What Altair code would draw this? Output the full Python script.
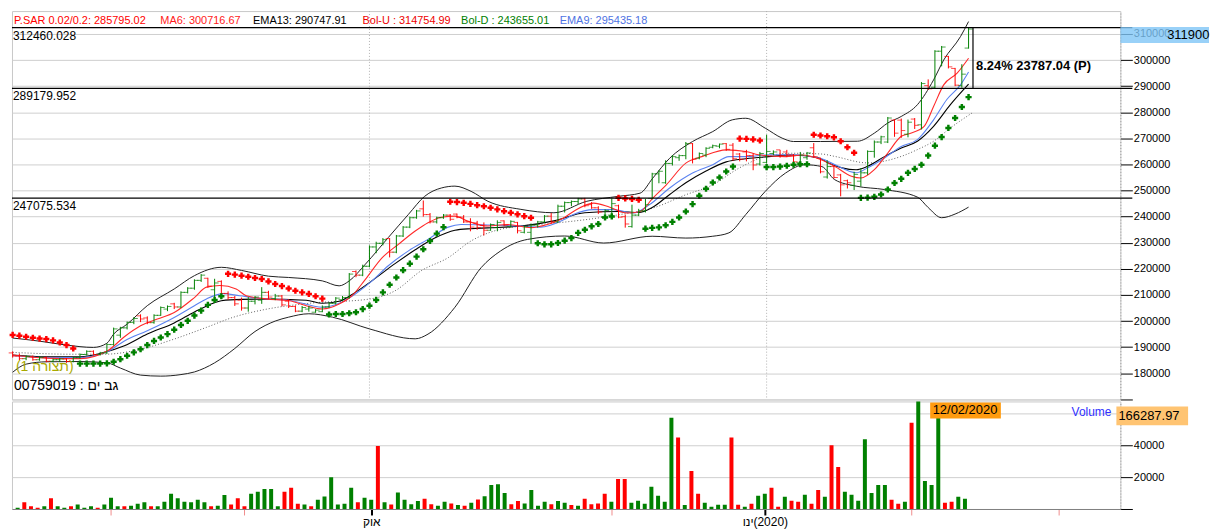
import altair as alt
import pandas as pd

FONT = "Liberation Sans, Arial, sans-serif"
K = 1000.0

# ---------------- price bars (thousands) ----------------
bar_open = [187.8, 186.6, 185.6, 186.4, 185.2, 186.0, 184.6, 185.2, 185.5, 184.5,
            186.0, 187.2, 188.4, 187.2, 187.8, 191.0, 194.6, 197.4, 199.5, 202.0,
            201.2, 199.4, 202.2, 204.6, 206.6, 205.4, 211.0, 212.6, 215.6, 216.4,
            212.0, 215.2, 210.6, 209.0, 208.0, 205.0, 207.6, 208.0, 211.0, 208.6,
            209.6, 207.6, 205.6, 203.8, 204.6, 203.4, 203.6, 205.4, 206.8, 208.2,
            209.0, 219.0, 217.6, 221.0, 228.4, 229.8, 231.6, 226.4, 232.6, 236.0,
            239.6, 243.0, 240.8, 238.0, 239.6, 240.6, 241.0, 239.8, 238.0, 237.6,
            236.6, 234.8, 235.8, 238.4, 236.2, 237.8, 234.0, 234.0, 236.8, 238.0,
            240.2, 238.0, 244.0, 245.4, 245.8, 246.8, 244.6, 243.4, 240.0, 240.6,
            244.2, 240.0, 236.2, 240.6, 242.2, 247.0, 256.4, 253.0, 260.4, 262.6,
            263.4, 268.0, 262.4, 263.6, 266.6, 267.0, 268.0, 267.4, 264.0, 264.8,
            263.4, 260.2, 260.8, 264.2, 265.6, 264.8, 263.6, 260.8, 262.6, 266.4,
            262.4, 255.2, 259.2, 256.0, 253.8, 252.0, 253.6, 256.8, 265.0, 268.6,
            268.6, 277.0, 277.0, 271.6, 277.4, 275.2, 290.2, 289.6, 303.4, 301.4,
            296.8, 290.2, 304.6]
bar_high = [188.4, 187.6, 186.8, 186.8, 186.4, 186.4, 185.6, 185.8, 185.8, 186.2,
            187.6, 188.8, 188.8, 188.2, 191.4, 197.5, 197.8, 199.8, 201.5, 202.6,
            201.8, 202.6, 205.6, 206.0, 207.0, 211.4, 213.0, 216.0, 218.0, 216.6,
            216.2, 215.6, 211.4, 209.6, 209.0, 209.2, 209.6, 213.0, 211.6, 210.4,
            210.0, 208.4, 206.0, 205.8, 205.8, 204.6, 206.0, 207.2, 209.2, 209.6,
            218.4, 219.4, 221.6, 229.0, 230.4, 231.8, 231.8, 233.0, 236.4, 240.0,
            242.6, 246.2, 241.4, 240.0, 241.0, 241.0, 241.2, 240.6, 239.4, 238.4,
            237.8, 237.4, 238.6, 238.6, 238.6, 238.0, 236.6, 237.4, 238.4, 240.6,
            241.4, 244.6, 245.8, 246.2, 247.2, 247.2, 245.6, 244.0, 242.8, 247.0,
            244.6, 240.8, 244.6, 243.0, 246.8, 256.8, 257.8, 261.6, 263.6, 263.8,
            268.6, 268.2, 264.6, 266.6, 267.6, 268.0, 268.2, 268.2, 264.4, 265.6,
            264.2, 264.8, 271.4, 265.4, 265.6, 265.6, 264.0, 264.8, 264.8, 268.2,
            262.6, 261.6, 259.8, 256.4, 254.2, 257.2, 258.6, 265.4, 269.2, 271.0,
            278.2, 277.4, 277.6, 277.2, 277.8, 291.6, 292.6, 303.8, 305.4, 301.6,
            297.0, 298.4, 312.4]
bar_low = [186.0, 185.0, 185.0, 184.8, 184.8, 184.2, 184.2, 184.4, 184.0, 184.2,
           185.6, 186.8, 186.8, 186.8, 187.4, 190.6, 193.6, 196.8, 198.8, 199.6,
           198.8, 199.0, 202.0, 203.8, 204.6, 205.0, 210.6, 212.0, 215.0, 212.8,
           207.4, 210.0, 208.2, 205.8, 204.0, 203.6, 206.4, 206.6, 208.4, 208.0,
           205.6, 205.0, 203.4, 203.4, 203.6, 203.2, 203.4, 205.0, 206.4, 207.6,
           208.6, 216.8, 217.2, 220.6, 226.0, 229.0, 224.4, 226.0, 232.2, 235.6,
           239.2, 240.0, 237.4, 237.4, 239.2, 238.4, 239.4, 237.6, 234.4, 235.0,
           232.8, 234.6, 234.4, 236.4, 235.8, 233.6, 233.6, 229.6, 235.8, 237.6,
           237.4, 237.6, 241.6, 244.0, 244.8, 243.6, 243.0, 241.0, 239.8, 240.4,
           239.4, 235.8, 235.8, 240.2, 241.6, 246.6, 252.8, 252.6, 259.6, 261.4,
           262.0, 260.4, 262.0, 262.8, 266.2, 266.2, 265.2, 261.4, 261.2, 261.2,
           257.8, 259.6, 260.4, 263.6, 262.6, 262.8, 260.2, 260.0, 261.8, 262.6,
           256.6, 254.6, 254.6, 247.8, 250.8, 250.2, 251.6, 256.0, 262.6, 267.8,
           268.2, 270.6, 270.2, 270.4, 273.6, 273.4, 288.6, 289.0, 297.6, 296.8,
           290.0, 289.4, 304.4]
bar_close = [186.6, 185.6, 186.4, 185.2, 186.0, 184.6, 185.2, 185.5, 184.5, 186.0,
             187.2, 188.4, 187.2, 187.8, 191.0, 197.0, 197.4, 199.5, 201.0, 200.8,
             199.4, 202.2, 205.2, 205.6, 205.4, 211.0, 212.6, 215.6, 217.6, 213.4,
             214.6, 210.6, 209.0, 206.6, 205.0, 207.6, 209.2, 211.0, 209.2, 209.6,
             206.2, 205.6, 203.8, 205.2, 205.0, 204.2, 205.4, 206.8, 208.8, 209.0,
             218.0, 217.6, 221.0, 228.4, 229.8, 231.2, 226.4, 232.6, 236.0, 239.6,
             242.2, 240.8, 238.0, 239.6, 240.6, 239.0, 239.8, 238.0, 236.0, 235.8,
             234.8, 237.0, 237.8, 236.8, 238.2, 234.6, 236.2, 236.8, 238.0, 240.2,
             238.0, 244.0, 245.4, 245.8, 246.8, 244.2, 243.4, 241.8, 242.4, 245.0,
             239.8, 237.2, 240.6, 242.2, 244.6, 256.4, 257.4, 260.4, 263.0, 263.4,
             268.0, 262.0, 264.2, 266.2, 267.2, 267.8, 265.8, 262.2, 262.0, 263.4,
             259.8, 264.2, 265.0, 264.8, 263.4, 263.6, 261.0, 263.6, 264.4, 263.0,
             257.2, 259.2, 255.0, 252.2, 253.0, 256.2, 256.8, 265.0, 268.6, 270.6,
             277.8, 272.0, 273.0, 276.2, 275.0, 291.0, 289.0, 303.4, 305.0, 297.4,
             290.4, 294.6, 311.9]

# Parabolic SAR per bar (thousands)
psar = [194.7, 194.4, 194.0, 193.6, 193.3, 193.1, 192.6, 191.8, 190.8, 189.5,
        183.7, 183.7, 183.7, 183.7, 183.8, 184.4, 185.4, 186.7, 188.0, 189.2,
        190.8, 192.4, 193.7, 195.0, 196.7, 198.5, 200.1, 202.1, 204.0, 206.2,
        208.1, 209.5,
        218.1, 217.8, 217.4, 217.0, 216.5, 216.1, 215.2, 214.2, 213.4, 212.5,
        211.6, 211.0, 210.4, 209.5, 208.6,
        202.5, 202.7, 202.7, 203.0, 203.4, 204.6, 205.9, 208.1, 211.0, 213.9,
        216.7, 219.5, 222.0, 224.7, 227.5, 230.7, 233.5, 236.0,
        245.7, 245.6, 245.3, 244.9, 244.4, 244.0, 243.4, 242.8, 242.1, 241.5,
        240.9, 240.2, 239.6,
        229.8, 229.4, 229.4, 229.9, 230.8, 231.8, 233.8, 235.0, 236.3, 237.2,
        239.7, 240.1,
        247.2, 247.0, 246.8, 246.5,
        235.4, 235.7, 235.9, 236.7, 238.0, 239.7, 242.0, 244.8, 248.0, 250.7,
        253.1, 255.0, 257.3, 259.2,
        269.9, 269.8, 269.6, 269.2,
        259.0, 259.0, 259.2, 259.5, 259.9, 260.1, 260.1,
        271.4, 271.1, 270.8, 270.4, 268.9, 266.6, 264.5,
        247.2, 247.3, 247.6, 248.5, 250.4, 252.9, 254.5, 256.8, 258.3, 259.9,
        263.4, 267.2, 270.5, 274.0, 277.8, 282.0, 285.8]

# indicator lines, read at sample bars (thousands)
bbu_x = [0, 4, 8, 12, 14, 15, 17, 20, 24, 27, 31, 34, 38, 41, 46, 48.5, 50, 52.4,
         55.8, 58.8, 61.2, 63.7, 65.7, 68.1, 70.6, 75.5, 80.4, 85.3, 90, 93.2, 95.1,
         97.6, 101, 104, 106.9, 108.9, 111.8, 114.3, 116, 120, 125.5, 128, 130, 132,
         134.4, 136.8, 138.3, 140.8, 142]
bbu_y = [193.5, 192.3, 190.8, 189.9, 191.5, 195.0, 198.8, 205.9, 212.3, 217.4, 220.6,
         219.4, 217.2, 216.7, 215.4, 213.5, 215.4, 221.8, 232.0, 240.9, 247.8, 251.0,
         251.7, 249.7, 245.9, 242.8, 241.5, 245.9, 247.8, 249.0, 254.8, 262.4, 268.8,
         272.6, 277.1, 277.7, 273.9, 270.1, 268.8, 268.8, 268.9, 272.0, 275.9, 278.4,
         282.9, 292.4, 300.0, 309.0, 314.755]
bbl_x = [0, 2, 5, 10, 14, 16, 19, 22, 25, 27, 30, 33, 36, 39, 41, 44, 47.5, 53, 59.8,
         61.7, 65.7, 69.6, 72.5, 76.5, 82, 87.8, 95, 100, 104, 106.4, 108.9, 111.8,
         114.8, 117.7, 120.2, 122.1, 125.3, 129.5, 134.4, 136, 138, 140, 142]
bbl_y = [180.4, 183.5, 184.4, 184.5, 184.0, 182.0, 179.3, 178.9, 179.5, 180.5, 184.0,
         189.5, 196.0, 200.0, 201.5, 202.8, 201.5, 197.0, 193.2, 195.0, 205.3, 220.5,
         226.9, 231.3, 232.6, 229.9, 232.5, 231.8, 232.5, 233.8, 240.8, 249.7, 256.7,
         259.9, 259.2, 254.2, 251.7, 250.4, 247.5, 243.5, 239.6, 241.0, 243.655]
ema13_x = [0, 5, 10, 13.6, 16.6, 20, 24, 27, 29, 31, 34, 37, 43.6, 46, 48.5, 50.9,
           53.4, 56.8, 59.8, 62.7, 65.7, 68.1, 70.6, 75.5, 80.4, 85, 90, 93, 95, 97.6,
           100, 103, 106, 108.9, 112.3, 115.7, 119.7, 121, 125.3, 127, 129.5, 132,
           134.4, 136.8, 139.3, 142]
ema13_y = [187.0, 186.3, 186.3, 188.0, 190.5, 195.0, 199.3, 203.5, 206.0, 207.8, 208.3,
           208.4, 208.0, 206.8, 207.6, 211.0, 215.5, 222.0, 227.3, 231.8, 234.8, 235.4,
           235.7, 236.4, 238.4, 241.5, 242.0, 241.6, 243.5, 248.5, 253.0, 257.5, 261.0,
           262.2, 263.0, 263.6, 262.6, 260.8, 258.0, 259.3, 263.0, 266.3, 268.9, 274.6,
           282.9, 290.748]
ema9_x = [0, 5, 10, 14, 16.6, 20, 24, 27, 28.8, 31.3, 33.7, 37.6, 41, 46, 48.5, 50.9,
          53.4, 55.8, 58.8, 61.7, 64.7, 66.6, 70.6, 75.5, 78.4, 81.9, 83.3, 86.3, 89.2,
          92.2, 94.6, 97.6, 101, 104, 106.4, 108.9, 112.3, 115.7, 120.2, 122.1, 125.3,
          127, 129.5, 132, 134.4, 136.8, 138.8, 140.8, 142]
ema9_y = [186.8, 186.0, 186.0, 188.2, 192.4, 196.3, 201.4, 205.9, 208.5, 210.5, 209.7,
          208.5, 208.0, 205.3, 206.8, 210.4, 215.4, 221.2, 226.9, 231.3, 236.0, 237.0,
          236.8, 236.4, 236.0, 238.9, 240.8, 242.7, 242.7, 241.4, 244.6, 251.0, 256.7,
          259.9, 263.0, 263.0, 263.7, 263.7, 262.2, 260.0, 256.8, 258.7, 262.5, 266.9,
          269.5, 277.1, 285.0, 290.5, 295.435]
ma6_x = [0, 5, 10, 14.1, 16.6, 19, 21.5, 24, 27, 28.8, 30.8, 33.2, 34.7, 37.6, 41.1,
         43.6, 46, 48.5, 50.4, 52.4, 54.9, 57.3, 59.8, 61.7, 63.7, 65.7, 67.6, 70.6,
         73.5, 77, 79.4, 81.9, 83.3, 86.3, 88.7, 91.2, 93.2, 95.1, 97.1, 100, 102.5,
         106, 108.9, 110.8, 114.8, 117.2, 120.1, 122.1, 124.6, 126, 128, 130, 132,
         133.4, 135.4, 136.8, 138.3, 140.3, 142]
ma6_y = [187.0, 185.8, 185.6, 188.6, 194.0, 198.2, 200.8, 203.3, 209.0, 213.0, 213.6,
         212.3, 209.7, 208.5, 207.8, 205.9, 204.6, 206.5, 209.7, 216.0, 224.3, 229.4,
         234.5, 237.7, 239.8, 240.2, 238.3, 236.4, 237.0, 235.8, 237.0, 239.6, 242.0,
         245.2, 243.6, 241.4, 242.0, 247.1, 252.2, 260.5, 263.1, 265.6, 265.0, 263.7,
         263.0, 263.6, 261.8, 259.3, 255.5, 254.8, 258.0, 264.4, 270.8, 272.0, 274.6,
         282.2, 290.5, 295.0, 300.717]
dot_x = [0, 9, 13.6, 19, 24, 28.8, 32.7, 37.6, 44, 52.9, 56.8, 60.7, 64.7, 68.1, 71.5,
         75.5, 80.4, 90.2, 95.1, 100, 104, 107.9, 111.8, 115.7, 120.2, 122.1, 127, 132,
         134.4, 136.8, 139.3, 142.5]
dot_y = [188.0, 187.3, 187.3, 189.2, 193.1, 197.6, 201.4, 204.5, 206.8, 208.4, 211.6,
         219.3, 224.3, 230.7, 234.5, 236.4, 237.5, 240.8, 243.3, 248.4, 252.2, 258.6,
         263.0, 264.3, 264.0, 263.1, 260.6, 263.1, 265.7, 268.9, 274.0, 279.7]

# ---------------- volume (thousands) ----------------
volume = [0.8, 4.2, 1.7, 0.8, 1.7, 6.7, 1.7, 0.8, 1.7, 2.9,
          0.8, 1.7, 0.8, 2.9, 7.1, 1.7, 1.7, 2.1, 3.3, 4.2,
          1.7, 1.7, 4.6, 9.6, 6.7, 4.6, 4.2, 5.8, 4.2, 1.7,
          2.1, 8.8, 2.9, 6.7, 1.7, 9.6, 10.8, 12.5, 12.5, 1.7,
          10.8, 13.3, 3.3, 2.9, 1.7, 5.8, 7.9, 20.0, 2.9, 3.3,
          13.3, 4.2, 7.1, 5.8, 39.6, 4.2, 2.9, 10.4, 5.8, 3.0,
          5.0, 6.5, 3.0, 2.0, 4.5, 3.5, 2.5, 2.0, 4.0, 6.0,
          8.0, 15.0, 15.5, 10.0, 3.0, 5.0, 3.5, 12.0, 2.0, 4.5,
          3.0, 5.0, 4.0, 2.5, 2.0, 6.5, 3.0, 3.5, 9.5, 4.6,
          18.8, 18.8, 3.9, 5.2, 3.3, 13.9, 8.3, 4.6, 57.3, 44.9,
          2.5, 23.8, 9.5, 3.9, 1.4, 2.7, 2.7, 44.9, 2.7, 1.4,
          3.3, 8.3, 9.5, 13.3, 1.4, 7.7, 5.2, 4.6, 8.9, 3.3,
          12.0, 7.7, 40.0, 26.3, 10.8, 8.9, 5.2, 43.7, 10.1, 15.1,
          15.1, 5.8, 3.3, 4.6, 54.2, 166.28797, 17.6, 15.1, 58.0, 3.9,
          4.6, 7.7, 6.4]
volume_dir = list("GRRRGRGGRG" "GGRGGGRGGG" "RGGGGGGGGR" "GGRRRGGGGG" "RRRGRGGGGG"
                  "GRGGRGRGGG" "GRRGGRGRGR" "GGGGRRGGGG" "RGGRGRRRRG" "RRGGGGGGGR"
                  "GRRGGGGRRG" "RGGRRGRRGR" "RGRRGGGGGG" "GRRGRGGGGR" "RGG")

levels = [312460.028, 289179.952, 247075.534]
x_tick_bars = [14, 34, 53, 89, 112, 134, 156]
month_bars = [53, 112]
# month labels; the 2020 label is given in visual (display) order with a
# left-to-right override so the Hebrew sits to the left of "(2020)"
LRO, PDF = "\u202d", "\u202c"
month_oct = "אוק"
month_jan = LRO + "וני(2020)" + PDF

# ---------------- tables ----------------
n = len(bar_close)
ohlc = pd.DataFrame({
    "i": list(range(n)),
    "o": [v * K for v in bar_open], "h": [v * K for v in bar_high],
    "l": [v * K for v in bar_low], "c": [v * K for v in bar_close],
    "dir": ["G" if c >= o else "R" for o, c in zip(bar_open, bar_close)],
})
sar = pd.DataFrame({"i": list(range(n)), "v": [v * K for v in psar],
                    "dir": ["R" if s > c else "G" for s, c in zip(psar, bar_close)]})
vol_df = pd.DataFrame({"i": list(range(n)), "v": [v * K for v in volume], "dir": volume_dir})


def line_df(xs_, ys_):
    return pd.DataFrame({"i": xs_, "v": [v * K for v in ys_]})


one = pd.DataFrame({"k": [0]})

xs = alt.Scale(domain=[-0.1, 164.55], nice=False, zero=False)
ys = alt.Scale(domain=[169966, 318775], nice=False, zero=False)
vs = alt.Scale(domain=[0, 67500], nice=False, zero=False)
cs = alt.Scale(domain=["G", "R"], range=["#008000", "#ff0000"])

price_axis = alt.Axis(orient="right", values=list(range(170000, 320000, 10000)), format="d",
                      labelExpr="datum.value < 175000 ? '' : datum.label", title=None,
                      tickSize=12, tickColor="#000000", domainColor="#9a9a9a", domainDash=[1, 2],
                      gridColor="#cfcfcf", labelFontSize=11, labelColor="#000000",
                      labelPadding=1, labelFont=FONT)
vol_axis = alt.Axis(orient="right", values=[0, 20000, 40000, 60000], format="d",
                    labelExpr="(datum.value == 0 || datum.value == 60000) ? '' : datum.label",
                    title=None, tickSize=12, tickColor="#000000", domainColor="#9a9a9a",
                    domainDash=[1, 2], gridColor="#cfcfcf", labelFontSize=11,
                    labelColor="#000000", labelPadding=1, labelFont=FONT)
month_test = "datum.value == 53 || datum.value == 112"
x_axis = alt.Axis(values=x_tick_bars, title=None, grid=False,
                  labelExpr=f"datum.value == 53 ? '{month_oct}' : (datum.value == 112 ? '{month_jan}' : '')",
                  tickColor={"condition": {"test": month_test, "value": "#000000"}, "value": "#f08c8c"},
                  tickWidth={"condition": {"test": month_test, "value": 2}, "value": 1},
                  tickSize=6, domainColor="#808080", labelFontSize=12, labelPadding=2,
                  labelColor="#000000", labelFont=FONT)


def XP(f="i"):
    return alt.X(f"{f}:Q", scale=xs, axis=None)


def YP(f):
    return alt.Y(f"{f}:Q", scale=ys, axis=price_axis)


def txt(s, x, y, size=11, color="#000000", align="left", weight="normal"):
    return alt.Chart(one).mark_text(text=s, fontSize=size, color=color, align=align,
                                    baseline="middle", fontWeight=weight, font=FONT).encode(
        x=alt.value(x), y=alt.value(y))


def box(x1, x2, y1, y2, fill, opacity=1.0):
    return alt.Chart(one).mark_rect(fill=fill, opacity=opacity).encode(
        x=alt.value(x1), x2=alt.value(x2), y=alt.value(y1), y2=alt.value(y2))


def ind_line(xs_, ys_, color, width=1.0, dash=None):
    kw = dict(color=color, strokeWidth=width, interpolate="monotone")
    if dash:
        kw["strokeDash"] = dash
    return alt.Chart(line_df(xs_, ys_)).mark_line(**kw).encode(x=XP(), y=YP("v"))


vgrid = alt.Chart(pd.DataFrame({"i": month_bars})).mark_rule(
    color="#b0b0b0", strokeDash=[1, 2], strokeWidth=1).encode(x=XP())

bar_rule = alt.Chart(ohlc).mark_rule(strokeWidth=1).encode(
    x=XP(), y=YP("l"), y2="h", color=alt.Color("dir:N", scale=cs, legend=None))
open_tick = alt.Chart(ohlc).mark_tick(orient="horizontal", size=4, thickness=1, xOffset=-2).encode(
    x=XP(), y=YP("o"), color=alt.Color("dir:N", scale=cs, legend=None))
close_tick = alt.Chart(ohlc).mark_tick(orient="horizontal", size=4, thickness=1, xOffset=2).encode(
    x=XP(), y=YP("c"), color=alt.Color("dir:N", scale=cs, legend=None))
sar_pts = alt.Chart(sar).mark_point(shape="cross", filled=True, size=38, opacity=1).encode(
    x=XP(), y=YP("v"), color=alt.Color("dir:N", scale=cs, legend=None))

lev_df = pd.DataFrame({"v": levels, "lab": [f"{v:.3f}" for v in levels]})
lev_rule = alt.Chart(lev_df).mark_rule(color="#000000", strokeWidth=1.2).encode(
    x=alt.value(0), x2=alt.value(1125), y=YP("v"))
lev_text = alt.Chart(lev_df).mark_text(align="left", baseline="top", dy=3, dx=1, fontSize=12,
                                       font=FONT, color="#000000").encode(
    x=alt.value(0), y=YP("v"), text="lab:N")
meas_df = pd.DataFrame({"top": [levels[0]], "bot": [levels[1]]})
meas_rule = alt.Chart(meas_df).mark_rule(color="#000000", strokeWidth=1.2).encode(
    x=alt.value(965), y=YP("top"), y2="bot")

price = alt.layer(
    vgrid,
    ind_line(dot_x, dot_y, "#606060", 1.0, [1, 2]),
    ind_line(bbu_x, bbu_y, "#202020", 1.0),
    ind_line(bbl_x, bbl_y, "#202020", 1.0),
    ind_line(ema13_x, ema13_y, "#000000", 1.1),
    ind_line(ema9_x, ema9_y, "#5b82f0", 1.1),
    ind_line(ma6_x, ma6_y, "#ff2a2a", 1.1),
    bar_rule, open_tick, close_tick, sar_pts,
    lev_rule, lev_text, meas_rule,
    txt("8.24% 23787.04 (P)", 968, 55, size=13, weight="bold"),
    txt("P.SAR 0.02/0.2: 285795.02", 2, 10, color="#ff0000"),
    txt("MA6: 300716.67", 149, 10, color="#ff1a1a"),
    txt("EMA13: 290747.91", 242, 10, color="#000000"),
    txt("Bol-U : 314754.99", 352, 10, color="#ee0000"),
    txt("Bol-D : 243655.01", 451, 10, color="#008000"),
    txt("EMA9: 295435.18", 550, 10, color="#4f73e3"),
    txt("(תצורה 1)", 4, 357, size=14, color="#a9a900"),
    txt("גב ים : 00759019", 2, 377, size=14),
    box(1113, 1202, 16, 32, "#7fc6f6", 0.8),
    txt("311900", 1160, 24, size=13),
).properties(width=1113, height=390)

vol_bars = alt.Chart(vol_df).mark_bar(size=4, clip=True).encode(
    x=alt.X("i:Q", scale=xs, axis=x_axis),
    y=alt.Y("v:Q", scale=vs, axis=vol_axis),
    color=alt.Color("dir:N", scale=cs, legend=None))

volume_chart = alt.layer(
    vol_bars,
    box(922, 993, 1, 17, "#ff9b0f"),
    txt("12/02/2020", 957, 9, size=13, align="center"),
    txt("Volume", 1104, 11, size=12, color="#3030ff", align="right"),
    box(1109, 1181, 5, 24, "#ffc472"),
    txt("166287.97", 1111, 14.5, size=13),
).properties(width=1113, height=108)

chart = alt.vconcat(price, volume_chart, spacing=0).properties(
    padding={"left": 0, "top": 1, "right": 0, "bottom": 0},
    background="#ffffff",
).configure_view(stroke="#c8c8c8", strokeWidth=1)

chart.save("out.html", embed_options={"renderer": "svg", "actions": False})
